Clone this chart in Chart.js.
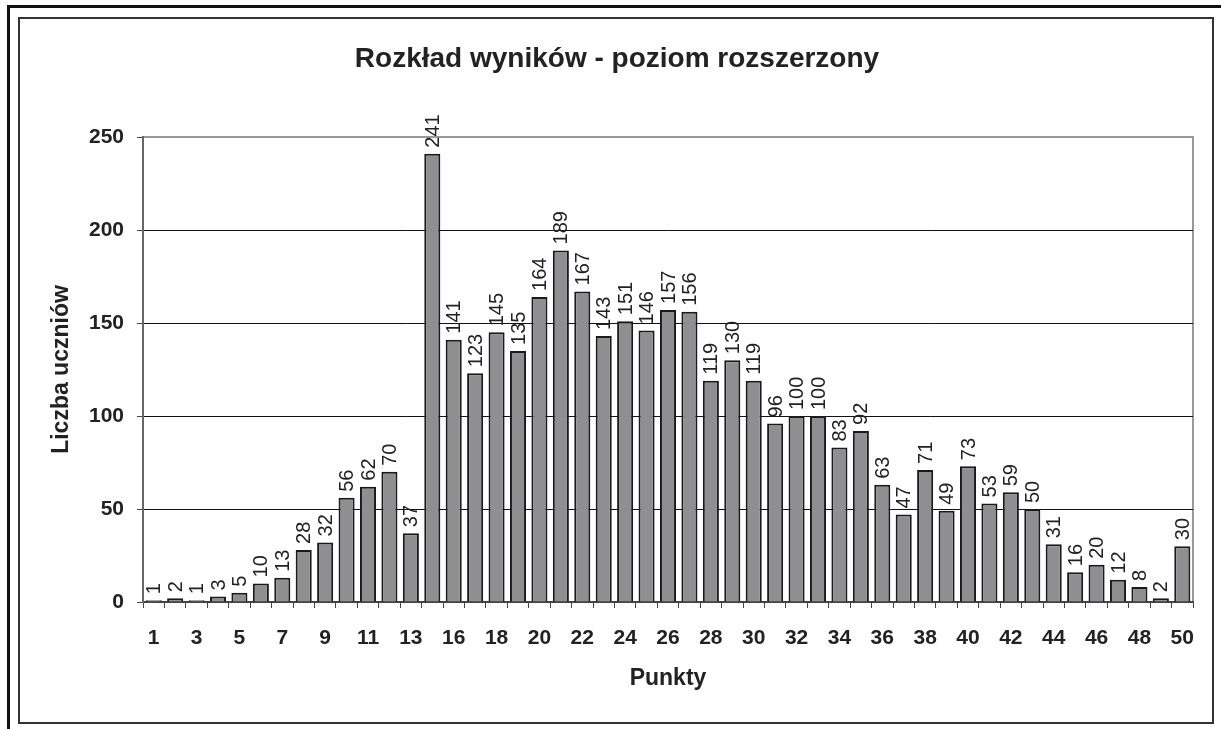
<!DOCTYPE html>
<html>
<head>
<meta charset="utf-8">
<script src="https://cdn.jsdelivr.net/npm/chart.js@4"></script>
<style>
  html, body { margin: 0; padding: 0; background: #fff; }
  canvas { display: block; }
</style>
</head>
<body>
<canvas id="chart" width="1221" height="729"></canvas>
<script>
// dane: liczba punktów i liczba uczniów (14 pkt brak w zestawieniu)
const points = [1, 2, 3, 4, 5, 6, 7, 8, 9, 10, 11, 12, 13, 15, 16, 17, 18, 19, 20, 21, 22, 23, 24, 25, 26,
                27, 28, 29, 30, 31, 32, 33, 34, 35, 36, 37, 38, 39, 40, 41, 42, 43, 44, 45, 46, 47, 48, 49, 50];
const counts = [1, 2, 1, 3, 5, 10, 13, 28, 32, 56, 62, 70, 37, 241, 141, 123, 145, 135, 164, 189, 167, 143, 151, 146, 157,
                156, 119, 130, 119, 96, 100, 100, 83, 92, 63, 47, 71, 49, 73, 53, 59, 50, 31, 16, 20, 12, 8, 2, 30];
const titleText = "Rozkład wyników - poziom rozszerzony";
const FONT = "'Liberation Sans', Arial, sans-serif";

/* ramki + tytuł */
const framePlugin = {
    id: "frames",
    beforeDraw(chart) {
        const ctx = chart.ctx;
        const a = chart.chartArea;
        ctx.save();
        // zewnętrzna ramka (tylko góra i lewa)
        ctx.strokeStyle = "#111";
        ctx.lineWidth = 3;
        ctx.beginPath();
        ctx.moveTo(7, 6.5); ctx.lineTo(1221, 6.5);
        ctx.moveTo(8.5, 6); ctx.lineTo(8.5, 729);
        ctx.stroke();
        // wewnętrzna ramka
        ctx.strokeStyle = "#333";
        ctx.lineWidth = 2;
        ctx.strokeRect(19, 18, 1194, 705);
        // obszar wykresu
        ctx.strokeStyle = "#999";
        ctx.lineWidth = 2;
        ctx.beginPath();
        ctx.moveTo(a.left, a.top);
        ctx.lineTo(a.right, a.top);
        ctx.lineTo(a.right, a.bottom);
        ctx.stroke();
        // tytuł
        ctx.fillStyle = "#222";
        ctx.font = "bold 28px " + FONT;
        ctx.textAlign = "center";
        ctx.textBaseline = "middle";
        ctx.fillText(titleText, 617, 59);
        ctx.restore();
    }
};

/* etykiety nad słupkami (pionowe) */
const valueLabels = {
    id: "valueLabels",
    afterDatasetsDraw(chart) {
        const ctx = chart.ctx;
        const meta = chart.getDatasetMeta(0);
        ctx.save();
        ctx.fillStyle = "#222";
        ctx.font = "20px " + FONT;
        ctx.textAlign = "left";
        ctx.textBaseline = "middle";
        meta.data.forEach((bar, i) => {
            ctx.save();
            ctx.translate(bar.x, bar.y - 6);
            ctx.rotate(-Math.PI / 2);
            ctx.fillText(String(counts[i]), 0, 1);
            ctx.restore();
        });
        ctx.restore();
    }
};

new Chart(document.getElementById("chart"), {
    type: "bar",
    data: {
        labels: points,
        datasets: [{
            data: counts,
            backgroundColor: "#8f8f92",
            borderColor: "#1a1a1a",
            borderWidth: 2,
            barPercentage: 0.75,
            categoryPercentage: 1
        }]
    },
    options: {
        responsive: false,
        animation: false,
        devicePixelRatio: 1,
        layout: { padding: { top: 137, left: 0, right: 28, bottom: 0 } },
        plugins: {
            legend: { display: false },
            title: { display: false },
            tooltip: { enabled: false }
        },
        scales: {
            x: {
                offset: true,
                afterFit(scale) { scale.height = 127; },
                grid: {
                    offset: true,
                    drawOnChartArea: false,
                    drawTicks: true,
                    tickLength: 6,
                    color: "#444",
                    lineWidth: 1
                },
                border: { color: "#444", width: 2 },
                ticks: {
                    autoSkip: false,
                    maxRotation: 0,
                    minRotation: 0,
                    padding: 18,
                    color: "#222",
                    font: { family: FONT, size: 21, weight: "bold" },
                    callback(val, i) { return i % 2 === 0 ? this.getLabelForValue(val) : ""; }
                },
                title: {
                    display: true,
                    text: "Punkty",
                    color: "#222",
                    font: { family: FONT, size: 23, weight: "bold" },
                    padding: { top: 0, bottom: 37 }
                }
            },
            y: {
                min: 0,
                max: 250,
                afterFit(scale) { scale.width = 143; },
                grid: {
                    color: (c) => c.tick && c.tick.value === 250 ? "rgba(0,0,0,0)" : "#111",
                    lineWidth: 1,
                    tickLength: 6,
                    tickColor: "#444"
                },
                border: { color: "#666", width: 2 },
                ticks: {
                    stepSize: 50,
                    padding: 13,
                    color: "#222",
                    font: { family: FONT, size: 21, weight: "bold" }
                },
                title: {
                    display: true,
                    text: "Liczba uczniów",
                    color: "#222",
                    font: { family: FONT, size: 23, weight: "bold" },
                    padding: { top: 48, bottom: 0 }
                }
            }
        }
    },
    plugins: [framePlugin, valueLabels]
});
</script>
</body>
</html>
